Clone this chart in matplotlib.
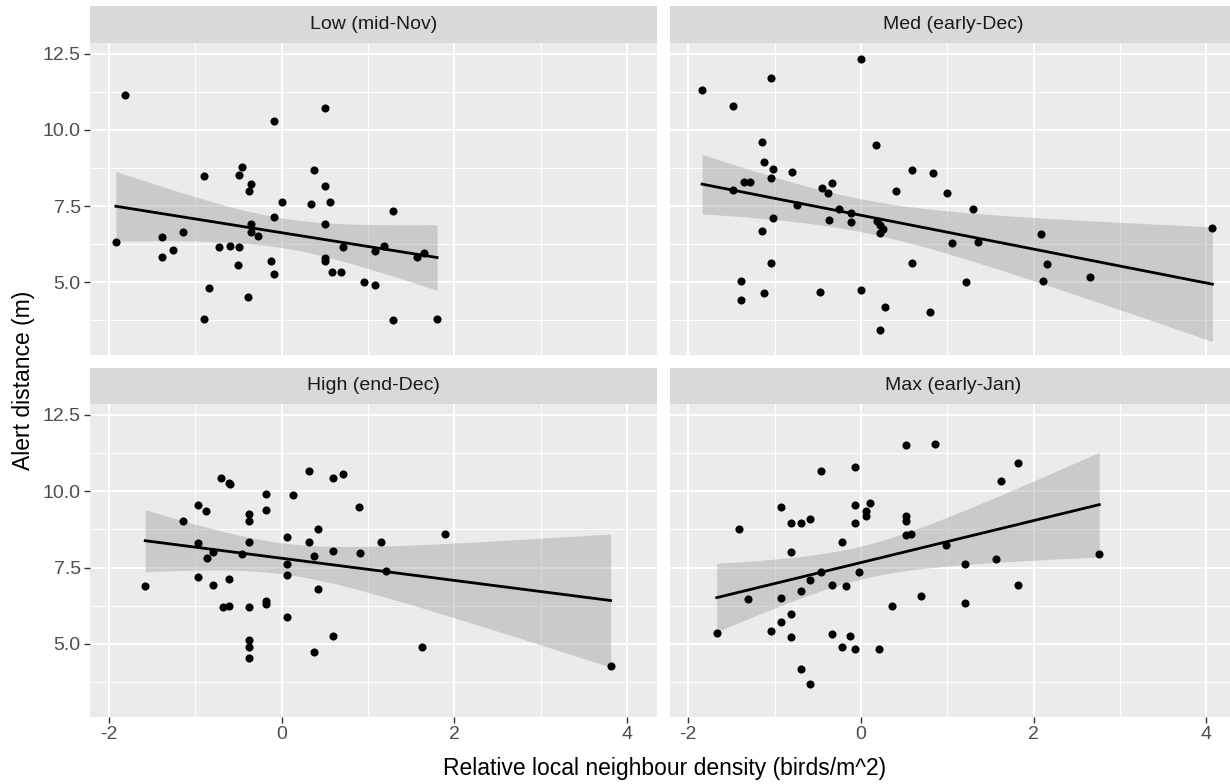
import numpy as np
import matplotlib

matplotlib.use("Agg")
import matplotlib.pyplot as plt

plt.rcParams["font.family"] = ["Liberation Sans", "DejaVu Sans"]
plt.rcParams["axes.unicode_minus"] = False

# facet titles, in panel order (top-left, top-right, bottom-left, bottom-right)
panel_titles = ["Low (mid-Nov)", "Med (early-Dec)", "High (end-Dec)", "Max (early-Jan)"]

# density (x) and alert distance (y)
low_x = [-1.92, -1.81, -1.39, -1.38, -1.26, -1.14, -0.90, -0.90, -0.84, -0.73,
         -0.60, -0.51, -0.49, -0.49, -0.46, -0.39, -0.38, -0.36, -0.35, -0.36,
         -0.27, -0.12, -0.09, -0.09, -0.09, 0.00, 0.34, 0.37, 0.50, 0.50,
         0.50, 0.50, 0.50, 0.56, 0.58, 0.69, 0.71, 0.95, 1.08, 1.08,
         1.19, 1.29, 1.29, 1.57, 1.65, 1.80]
low_y = [6.31, 11.14, 5.84, 6.48, 6.06, 6.64, 8.48, 3.80, 4.80, 6.16,
         6.20, 5.58, 8.52, 6.16, 8.79, 4.50, 7.98, 8.22, 6.90, 6.64,
         6.53, 5.69, 10.30, 7.15, 5.26, 7.63, 7.58, 8.68, 10.73, 8.16,
         6.90, 5.79, 5.70, 7.63, 5.33, 5.33, 6.16, 5.01, 6.01, 4.90,
         6.20, 7.32, 3.75, 5.84, 5.96, 3.80]

med_x = [-1.84, -1.48, -1.48, -1.39, -1.39, -1.36, -1.28, -1.15, -1.15, -1.12,
         -1.12, -1.04, -1.02, -1.04, -1.02, -1.04, -0.80, -0.74, -0.48, -0.45,
         -0.38, -0.33, -0.37, -0.26, -0.11, -0.11, 0.00, 0.00, 0.18, 0.19,
         0.22, 0.25, 0.22, 0.22, 0.28, 0.41, 0.59, 0.59, 0.80, 0.84,
         1.00, 1.06, 1.22, 1.30, 1.35, 2.09, 2.11, 2.15, 2.65, 4.07]
med_y = [11.30, 10.77, 8.04, 5.05, 4.42, 8.30, 8.30, 9.61, 6.68, 8.93,
         4.64, 11.71, 8.73, 8.41, 7.11, 5.63, 8.63, 7.52, 4.68, 8.10,
         7.94, 8.26, 7.05, 7.40, 7.26, 6.99, 12.34, 4.74, 9.51, 7.02,
         6.87, 6.74, 6.63, 3.44, 4.18, 7.99, 8.67, 5.63, 4.02, 8.57,
         7.94, 6.27, 5.01, 7.40, 6.32, 6.57, 5.05, 5.59, 5.16, 6.78]

high_x = [-1.58, -1.14, -0.97, -0.97, -0.97, -0.88, -0.86, -0.79, -0.79, -0.70,
          -0.68, -0.61, -0.60, -0.61, -0.61, -0.46, -0.38, -0.38, -0.38, -0.38,
          -0.38, -0.38, -0.38, -0.18, -0.18, -0.18, -0.18, 0.06, 0.06, 0.06,
          0.06, 0.13, 0.32, 0.32, 0.37, 0.37, 0.42, 0.42, 0.60, 0.60,
          0.60, 0.71, 0.90, 0.91, 1.15, 1.21, 1.62, 1.89, 3.81]
high_y = [6.88, 9.03, 9.55, 8.31, 7.19, 9.34, 7.82, 8.00, 6.94, 10.45,
          6.19, 10.28, 10.23, 7.14, 6.24, 7.93, 9.25, 9.03, 8.34, 6.19,
          5.11, 4.89, 4.52, 9.91, 9.40, 6.40, 6.30, 8.50, 7.61, 7.25,
          5.88, 9.87, 10.66, 8.34, 7.89, 4.74, 8.77, 6.78, 10.44, 8.03,
          5.25, 10.55, 9.50, 7.98, 8.34, 7.40, 4.89, 8.60, 4.26]

max_x = [-1.67, -1.41, -1.31, -1.04, -0.93, -0.93, -0.93, -0.81, -0.81, -0.81,
         -0.81, -0.70, -0.70, -0.70, -0.59, -0.59, -0.59, -0.46, -0.46, -0.33,
         -0.33, -0.22, -0.22, -0.17, -0.13, -0.07, -0.07, -0.07, -0.07, -0.02,
         0.06, 0.06, 0.10, 0.21, 0.36, 0.52, 0.52, 0.52, 0.52, 0.58,
         0.69, 0.86, 0.98, 1.21, 1.21, 1.56, 1.62, 1.82, 1.82, 2.76]
max_y = [5.36, 8.77, 6.46, 5.41, 9.50, 6.51, 5.73, 8.97, 8.02, 5.99,
         5.21, 8.97, 6.72, 4.16, 9.08, 7.10, 3.69, 10.66, 7.36, 6.93,
         5.31, 8.35, 4.89, 6.88, 5.26, 10.81, 9.55, 8.97, 4.84, 7.36,
         9.34, 9.18, 9.61, 4.84, 6.24, 11.50, 9.18, 9.03, 8.56, 8.61,
         6.57, 11.55, 8.24, 7.62, 6.35, 7.77, 10.34, 10.92, 6.93, 7.93]

x_ticks = [-2, 0, 2, 4]
y_ticks = [5.0, 7.5, 10.0, 12.5]

W, H = 1230, 784
PANEL_BG = "#EBEBEB"
STRIP_BG = "#D9D9D9"
TEXT_GREY = "#4D4D4D"


def lm_band(x, y, n=80):
    """Straight-line fit with a 95% confidence band, like geom_smooth(method='lm')."""
    x = np.asarray(x)
    y = np.asarray(y)
    slope, icpt = np.polyfit(x, y, 1)
    resid = y - (icpt + slope * x)
    dof = len(x) - 2
    s = np.sqrt(np.sum(resid ** 2) / dof)
    xs = np.linspace(x.min(), x.max(), n)
    se = s * np.sqrt(1 / len(x) + (xs - x.mean()) ** 2 / np.sum((x - x.mean()) ** 2))
    t = 2.01  # ~ t(0.975, ~47 df)
    fit = icpt + slope * xs
    return xs, fit, fit - t * se, fit + t * se


def px_axes(fig, left, top, right, bottom):
    return fig.add_axes([left / W, 1 - bottom / H, (right - left) / W, (bottom - top) / H])


fig = plt.figure(figsize=(W / 100, H / 100), dpi=100)

cols = [(90.4, 657.0), (669.7, 1236.3)]
rows = [(6.0, 42.7, 355.0), (367.7, 404.0, 716.7)]  # strip top, plot top, plot bottom
xlim = (-2.215, 4.347)
ylim = (2.61, 12.86)

data = [(low_x, low_y), (med_x, med_y), (high_x, high_y), (max_x, max_y)]

for i, (title, (xv, yv)) in enumerate(zip(panel_titles, data)):
    r, c = divmod(i, 2)
    left, right = cols[c]
    s_top, p_top, p_bot = rows[r]

    strip = px_axes(fig, left, s_top, right, p_top)
    strip.set_facecolor(STRIP_BG)
    strip.set_xticks([])
    strip.set_yticks([])
    for sp in strip.spines.values():
        sp.set_visible(False)
    strip.text(0.5, 0.5, title, ha="center", va="center", fontsize=14,
               color="#1A1A1A", transform=strip.transAxes)

    ax = px_axes(fig, left, p_top, right, p_bot)
    ax.set_facecolor(PANEL_BG)
    for sp in ax.spines.values():
        sp.set_visible(False)
    ax.set_xlim(*xlim)
    ax.set_ylim(*ylim)
    ax.set_xticks(x_ticks)
    ax.set_yticks(y_ticks)
    ax.set_xticks([-1, 1, 3], minor=True)
    ax.set_yticks([3.75, 6.25, 8.75, 11.25], minor=True)
    ax.grid(True, which="major", color="white", linewidth=1.4)
    ax.grid(True, which="minor", color="white", linewidth=0.7)
    ax.set_axisbelow(True)
    ax.tick_params(which="minor", length=0)
    ax.tick_params(which="major", length=4, width=1, color="#333333",
                   labelsize=14, labelcolor=TEXT_GREY, pad=3)
    ax.yaxis.set_major_formatter(matplotlib.ticker.FormatStrFormatter("%.1f"))

    if c == 1:
        ax.tick_params(axis="y", left=False, labelleft=False)
    if r == 0:
        ax.tick_params(axis="x", bottom=False, labelbottom=False)

    xs, fit, lo, hi = lm_band(xv, yv)
    ax.fill_between(xs, lo, hi, color="#999999", alpha=0.4, linewidth=0, zorder=2)
    ax.scatter(xv, yv, s=34, color="black", linewidths=0, zorder=3)
    ax.plot(xs, fit, color="black", linewidth=2, zorder=4)

fig.text(24 / W, 1 - 380 / H, "Alert distance (m)", rotation=90, ha="center",
         va="center", fontsize=16.5, color="black")
fig.text(665 / W, 1 - 768 / H, "Relative local neighbour density (birds/m^2)",
         ha="center", va="center", fontsize=16.5, color="black")

fig.savefig("out.png", dpi=100)
plt.close(fig)
